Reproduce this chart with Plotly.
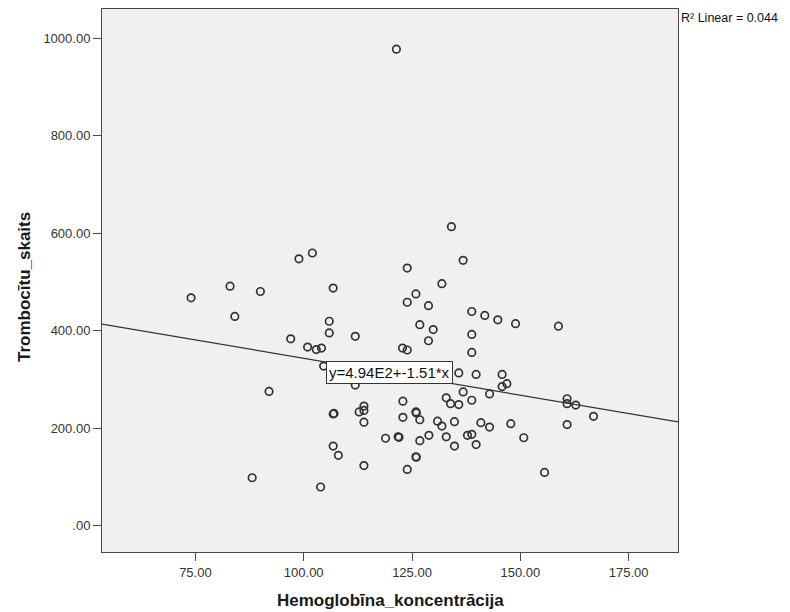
import plotly.graph_objects as go

# Data (Hemoglobin concentration vs platelet count)
hemoglobin = [74.0, 83.0, 84.1, 90.0, 98.9, 102.0, 106.8, 105.9, 105.9, 111.9,
              97.0, 100.9, 102.9, 104.1, 104.6, 92.0, 111.9, 106.8, 107.0, 112.8,
              113.9, 113.9, 113.9, 106.8, 108.0, 113.9, 88.1, 103.9, 134.1, 123.9,
              136.8, 131.9, 125.9, 123.9, 128.8, 138.8, 141.8, 144.8, 148.9, 126.8,
              129.9, 128.8, 138.8, 122.8, 123.9, 138.8, 135.8, 139.8, 145.8, 146.9,
              145.8, 136.8, 142.9, 132.9, 133.9, 135.8, 138.8, 122.9, 122.9, 125.9,
              126.0, 126.8, 130.9, 131.9, 134.8, 140.9, 142.9, 147.8, 118.9, 121.8,
              122.0, 126.8, 128.9, 132.9, 137.8, 138.8, 134.8, 139.8, 150.8, 125.9,
              126.0, 123.9, 158.8, 160.8, 160.8, 162.8, 166.9, 160.8, 155.6, 121.4]
platelets = [467, 491, 429, 480, 547, 559, 487, 419, 395, 388,
             383, 366, 361, 364, 327, 275, 288, 229, 230, 233,
             245, 236, 212, 163, 144, 123, 98, 79, 613, 528,
             544, 496, 475, 458, 451, 439, 431, 422, 414, 412,
             402, 379, 392, 364, 360, 355, 313, 310, 310, 291,
             285, 274, 270, 262, 250, 248, 257, 255, 222, 233,
             231, 217, 214, 204, 213, 211, 202, 209, 179, 182,
             181, 174, 185, 182, 185, 187, 163, 166, 180, 141,
             140, 115, 409, 260, 250, 247, 224, 207, 109, 977]

# Fit line parameters shown in the chart
intercept = 494.0
slope = -1.51
r2_text = "R² Linear = 0.044"
eq_text = "y=4.94E2+-1.51*x"
x_title = "Hemoglobīna_koncentrācija"
y_title = "Trombocītu_skaits"

x_range = [53.44, 186.4]
y_range = [-54.3, 1059.5]
x_ticks = [75, 100, 125, 150, 175]
x_ticklabels = ["75.00", "100.00", "125.00", "150.00", "175.00"]
y_ticks = [0, 200, 400, 600, 800, 1000]
y_ticklabels = [".00", "200.00", "400.00", "600.00", "800.00", "1000.00"]

FONT = "Arial, Liberation Sans, sans-serif"

fig = go.Figure()

line_x = x_range
line_y = [intercept + slope * v for v in line_x]
fig.add_trace(go.Scatter(x=line_x, y=line_y, mode="lines",
                         line=dict(color="#333333", width=1.2),
                         hoverinfo="skip", showlegend=False))

fig.add_trace(go.Scatter(x=hemoglobin, y=platelets, mode="markers",
                         marker=dict(symbol="circle-open", size=7.5,
                                     color="#333333", line=dict(width=1.7, color="#333333")),
                         showlegend=False))

eq_x = 119.8
fig.add_annotation(x=eq_x, y=intercept + slope * eq_x, xref="x", yref="y",
                   text=eq_text, showarrow=False,
                   font=dict(family=FONT, size=15, color="#111111"),
                   bgcolor="white", bordercolor="#333333", borderwidth=1, borderpad=2)

fig.add_annotation(x=1.0017, y=0.983, xref="paper", yref="paper",
                   xanchor="left", yanchor="middle", text=r2_text, showarrow=False,
                   font=dict(family=FONT, size=12.5, color="#111111"))

fig.add_annotation(x=0.5, y=-0.0902, xref="paper", yref="paper",
                   xanchor="center", yanchor="middle",
                   text=x_title, showarrow=False,
                   font=dict(family=FONT, size=17, color="#1a1a1a", weight="bold"))

fig.add_annotation(x=-0.1354, y=0.488, xref="paper", yref="paper",
                   xanchor="center", yanchor="middle", textangle=-90,
                   text=y_title, showarrow=False,
                   font=dict(family=FONT, size=17, color="#1a1a1a", weight="bold"))

axis_common = dict(showgrid=False, zeroline=False, showline=True, mirror=True,
                   linecolor="#4a4a4a", linewidth=1, ticks="outside", ticklen=8,
                   tickcolor="#4a4a4a", tickwidth=1,
                   tickfont=dict(family=FONT, size=13, color="#333333"))

fig.update_xaxes(range=x_range, tickvals=x_ticks, ticktext=x_ticklabels, **axis_common)
fig.update_yaxes(range=y_range, tickvals=y_ticks, ticktext=y_ticklabels, **axis_common)

fig.update_layout(width=790, height=612,
                  margin=dict(l=102, r=112, t=9, b=60),
                  paper_bgcolor="white", plot_bgcolor="#f0f0f0",
                  font=dict(family=FONT))

fig.write_html("out.html")
